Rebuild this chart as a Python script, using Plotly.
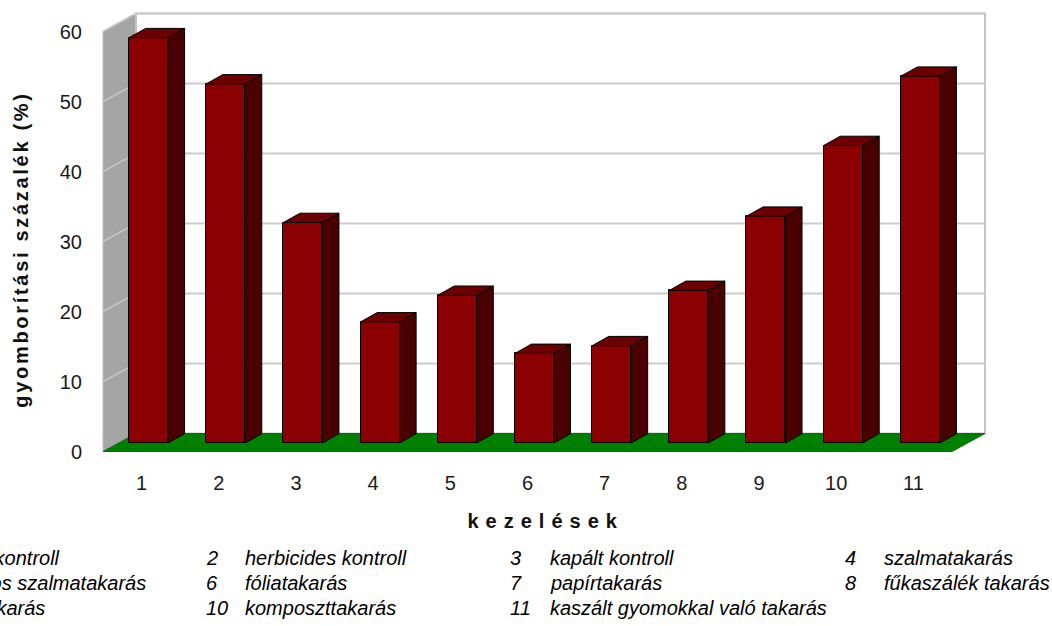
import plotly.graph_objects as go

# ---- data -------------------------------------------------------------
categories = [1, 2, 3, 4, 5, 6, 7, 8, 9, 10, 11]
tick_labels = ["1", "2", "3", "4", "5", "6", "7", "8", "9", "10", "11"]
values = [57.9, 51.3, 31.5, 17.3, 21.1, 12.8, 13.9, 21.8, 32.4, 42.5, 52.4]
y_ticks = [0, 10, 20, 30, 40, 50, 60]
legend_numbers = ["1", "2", "3", "4", "5", "6", "7", "8", "9", "10", "11"]
legend_names = [
    "gyomos kontroll", "herbicides kontroll", "kapált kontroll", "szalmatakarás",
    "komposztos szalmatakarás", "fóliatakarás", "papírtakarás", "fűkaszálék takarás",
    "fakéregtakarás", "komposzttakarás", "kaszált gyomokkal való takarás",
]
x_title = "kezelések"
y_title = "gyomborítási százalék (%)"

# ---- geometry of the pseudo-3D box ---------------------------------------
W, H = 1052, 626
L, R, T, B = 88, 1000, 5, 462          # plot area in pixels
PX0, SLOT = 103.0, 77.18                # x pixel of category 0.5, pixels per category
Y0PX, YS = 451.5, 7.0                   # pixel of value 0 on the front plane, px per unit
X_RANGE = [0.5 + (L - PX0) / SLOT, 0.5 + (R - PX0) / SLOT]
Y_RANGE = [(Y0PX - B) / YS, (Y0PX - T) / YS]

DX, DY = 33 / SLOT, 18 / YS             # full depth of floor / walls
BDX, BDY = 16.6 / SLOT, 9.3 / YS        # depth of each column
BASE = 8.5 / YS                         # columns stand slightly behind the floor edge
FACE_L, FACE_R = -0.163, 0.342          # front face relative to category centre
X_MIN, X_MAX = 0.5, len(categories) + 0.5
Y_TOP = max(y_ticks)


def px_to_paper_x(px):
    return (px - L) / (R - L)


def px_to_paper_y(py):
    return (B - py) / (B - T)


shapes = []
# left (side) wall
shapes.append(dict(type="path", layer="below",
                   path=f"M{X_MIN},0 L{X_MIN + DX},{DY} L{X_MIN + DX},{Y_TOP + DY} L{X_MIN},{Y_TOP} Z",
                   fillcolor="#a5a5a5", line=dict(color="#bdbdbd", width=1)))
# back wall
shapes.append(dict(type="rect", layer="below",
                   x0=X_MIN + DX, x1=X_MAX + DX, y0=DY, y1=Y_TOP + DY,
                   fillcolor="white", line=dict(color="#c4c4c4", width=2)))
# gridlines on back wall and side wall
for t in y_ticks[1:]:
    shapes.append(dict(type="line", layer="below", x0=X_MIN + DX, x1=X_MAX + DX,
                       y0=t + DY, y1=t + DY, line=dict(color="#cccccc", width=2)))
    shapes.append(dict(type="line", layer="below", x0=X_MIN, x1=X_MIN + DX,
                       y0=t, y1=t + DY, line=dict(color="#c4c4c4", width=1.5)))
# floor
shapes.append(dict(type="path", layer="below",
                   path=f"M{X_MIN},0 L{X_MAX},0 L{X_MAX + DX},{DY} L{X_MIN + DX},{DY} Z",
                   fillcolor="#008000", line=dict(color="#0a6e0a", width=1)))

# ---- column faces --------------------------------------------------------
side_x, side_y, top_x, top_y = [], [], [], []
for c, v in zip(categories, values):
    xl, xr = c + FACE_L, c + FACE_R
    yb, yt = BASE, BASE + v
    side_x += [xr, xr + BDX, xr + BDX, xr, xr, None]
    side_y += [yb, yb + BDY, yt + BDY, yt, yb, None]
    top_x += [xl, xr, xr + BDX, xl + BDX, xl, None]
    top_y += [yt, yt, yt + BDY, yt + BDY, yt, None]

fig = go.Figure()
fig.add_trace(go.Scatter(x=side_x, y=side_y, mode="lines", fill="toself",
                         fillcolor="#4b0000", line=dict(color="black", width=1),
                         hoverinfo="skip", showlegend=False))
fig.add_trace(go.Scatter(x=top_x, y=top_y, mode="lines", fill="toself",
                         fillcolor="#6c0000", line=dict(color="black", width=1),
                         hoverinfo="skip", showlegend=False))
fig.add_trace(go.Bar(x=[c + (FACE_L + FACE_R) / 2 for c in categories], y=values,
                     base=BASE, width=FACE_R - FACE_L,
                     marker=dict(color="#8b0000", line=dict(color="black", width=1)),
                     showlegend=False))

# ---- titles and treatment key ------------------------------------------
annotations = [
    dict(text=x_title, xref="paper", yref="paper", x=px_to_paper_x(546), y=px_to_paper_y(521),
         xanchor="center", yanchor="middle", showarrow=False,
         font=dict(size=20, color="#111111", weight="bold")),
    dict(text=y_title, xref="paper", yref="paper", x=px_to_paper_x(21), y=px_to_paper_y(250),
         xanchor="center", yanchor="middle", showarrow=False, textangle=-90,
         font=dict(size=20, color="#111111", weight="bold")),
]
row_y = [558, 583, 608]
num_x = [None, 204, 508, 843]
text_x = [None, 243, 548, 882]
first_col_right = [62, 148, 47]
key_font = dict(size=20, color="black", style="italic")
for i, (num, name) in enumerate(zip(legend_numbers, legend_names)):
    row, col = divmod(i, 4)
    yp = px_to_paper_y(row_y[row])
    if col == 0:
        annotations.append(dict(text=name, xref="paper", yref="paper",
                                x=px_to_paper_x(first_col_right[row]), y=yp,
                                xanchor="right", yanchor="middle", showarrow=False, font=key_font))
        continue
    annotations.append(dict(text=num, xref="paper", yref="paper", x=px_to_paper_x(num_x[col]), y=yp,
                            xanchor="left", yanchor="middle", showarrow=False, font=key_font))
    annotations.append(dict(text=name, xref="paper", yref="paper", x=px_to_paper_x(text_x[col]), y=yp,
                            xanchor="left", yanchor="middle", showarrow=False, font=key_font))

fig.update_layout(
    width=W, height=H, autosize=False,
    margin=dict(l=L, r=W - R, t=T, b=H - B, pad=0),
    paper_bgcolor="white", plot_bgcolor="white",
    font=dict(family="Liberation Sans, Arial, sans-serif", color="#1a1a1a"),
    shapes=shapes, annotations=annotations, bargap=0,
    xaxis=dict(range=X_RANGE, tickvals=categories, ticktext=tick_labels, showgrid=False,
               zeroline=False, showline=False, ticks="", ticklabelstandoff=7,
               tickfont=dict(size=20, color="#1a1a1a"), fixedrange=True),
    yaxis=dict(range=Y_RANGE, tickvals=y_ticks, showgrid=False, zeroline=False,
               showline=False, ticks="", ticklabelstandoff=5,
               tickfont=dict(size=20, color="#1a1a1a"), fixedrange=True),
)

# wide character spacing of the two axis titles
post = """
var gd = document.getElementById('{plot_id}');
var spacing = {'0': '7px', '1': '2.7px'};
gd.querySelectorAll('g.annotation').forEach(function (a) {
  var s = spacing[a.getAttribute('data-index')];
  if (s) { var t = a.querySelector('text'); if (t) { t.style.letterSpacing = s; } }
});
"""
fig.write_html("out.html", post_script=post)
